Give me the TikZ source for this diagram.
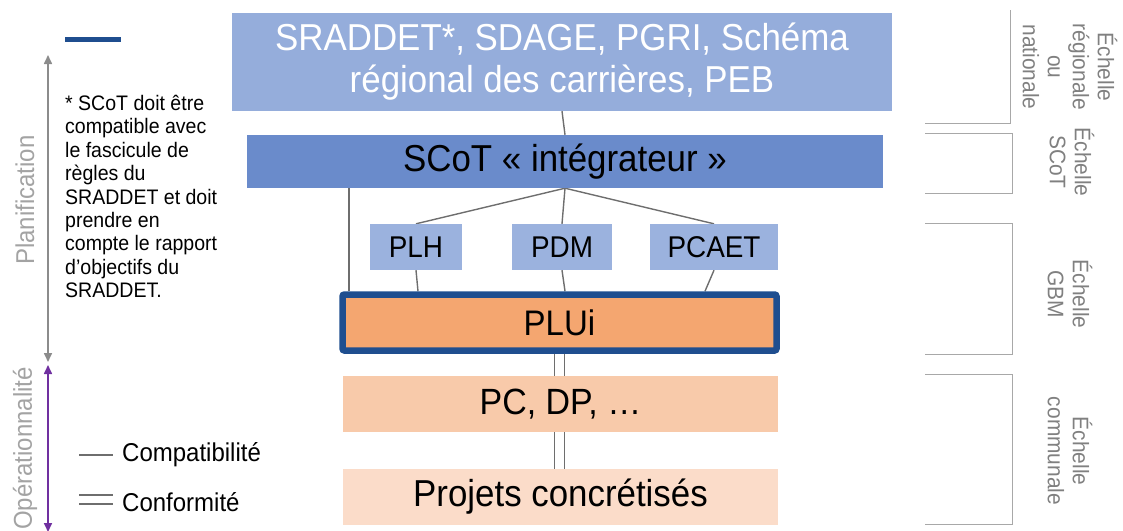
\documentclass[tikz,border=0pt]{standalone}
\usepackage{fontspec}
\setmainfont{Liberation Sans}[FakeStretch=0.93]
\usetikzlibrary{arrows.meta}
\definecolor{topblue}{HTML}{95ADDB}
\definecolor{scotblue}{HTML}{6A8BCB}
\definecolor{smallblue}{HTML}{9BB2DE}
\definecolor{pluifill}{HTML}{F4A670}
\definecolor{navy}{HTML}{1F4E8F}
\definecolor{pcfill}{HTML}{F8CAAA}
\definecolor{projfill}{HTML}{FBDCC9}
\definecolor{connc}{HTML}{6E6E6E}
\definecolor{brackc}{HTML}{A8A8A8}
\definecolor{sidetext}{HTML}{808080}
\definecolor{axisgray}{HTML}{8C8C8C}
\definecolor{purp}{HTML}{7030A0}
\pgfdeclarelayer{bg}
\pgfsetlayers{bg,main}
\begin{document}
\begin{tikzpicture}[x=1pt,y=-1pt,
  box/.style={draw=none, inner sep=0pt, align=center, text=black},
  conn/.style={draw=connc, line width=1.4pt},
  brack/.style={draw=brackc, line width=1pt},
  scaletext/.style={text=sidetext, align=center, rotate=-90, inner sep=0pt,
     font=\fontsize{22.5}{25}\selectfont},
  ]
\useasboundingbox (0,0) rectangle (1123,530);

% main boxes
\node[box, fill=topblue, text=white, minimum width=660pt, minimum height=98pt,
  font=\fontsize{37.5}{42}\selectfont] (top) at (562,62)
  {SRADDET*, SDAGE, PGRI, Schéma\\régional des carrières, PEB};
\node[box, fill=scotblue, minimum width=636pt, minimum height=53pt,
  font=\fontsize{37.5}{42}\selectfont] (scot) at (565,161.5) {SCoT « intégrateur »};
\node[box, fill=smallblue, minimum width=92pt, minimum height=46pt,
  font=\fontsize{30}{34}\selectfont] (plh) at (416,247) {PLH};
\node[box, fill=smallblue, minimum width=100pt, minimum height=46pt,
  font=\fontsize{30}{34}\selectfont] (pdm) at (562,247) {PDM};
\node[box, fill=smallblue, minimum width=128pt, minimum height=46pt,
  font=\fontsize{30}{34}\selectfont] (pcaet) at (714,247) {PCAET};
\node[box, draw=navy, line width=6.5pt, rounded corners=2pt, fill=pluifill,
  minimum width=434pt, minimum height=56pt,
  font=\fontsize{35.5}{40}\selectfont] (plui) at (559.5,322.5) {PLUi};
\node[box, fill=pcfill, minimum width=435pt, minimum height=56pt,
  font=\fontsize{36.5}{42}\selectfont] (pc) at (560.5,404) {PC, DP, …};
\node[box, fill=projfill, minimum width=435pt, minimum height=56pt,
  font=\fontsize{37.5}{42}\selectfont] (proj) at (560.5,497) {Projets concrétisés};

% connectors
\coordinate (lx) at (349,0);
\begin{pgfonlayer}{bg}
\draw[conn] (top.south) -- (scot.north);
\draw[conn] (scot.south) -- (plh.north);
\draw[conn] (scot.south) -- (pdm.north);
\draw[conn] (scot.south) -- (pcaet.north);
\draw[conn] (plh.south) -- ([xshift=2pt]plh.south |- plui.north);
\draw[conn] (pdm.south) -- ([xshift=3pt]pdm.south |- plui.north);
\draw[conn] (pcaet.south) -- ([xshift=-9pt]pcaet.south |- plui.north);
\draw[conn] (scot.south -| lx) -- (plui.north -| lx);
\draw[conn] ([xshift=-5pt]plui.south) -- ([xshift=-6pt]pc.north);
\draw[conn] ([xshift=5pt]plui.south) -- ([xshift=4pt]pc.north);
\draw[conn] ([xshift=-6pt]pc.south) -- ([xshift=-6pt]proj.north);
\draw[conn] ([xshift=4pt]pc.south) -- ([xshift=4pt]proj.north);
\end{pgfonlayer}

% right-hand brackets
\draw[brack] (925,123) -- (1010,123) -- (1010,10);
\draw[brack] (925,133) -- (1012,133) -- (1012,193) -- (925,193);
\draw[brack] (925,223) -- (1012,223) -- (1012,354) -- (925,354);
\draw[brack] (925,374) -- (1012,374) -- (1012,524) -- (925,524);
\node[scaletext] (s1) at (1070,67) {Échelle\\régionale\\ou\\nationale};
\node[scaletext] (s2) at (1072,162) {Échelle\\SCoT};
\node[scaletext] (s3) at (1070,294) {Échelle\\GBM};
\node[scaletext] (s4) at (1070,451) {Échelle\\communale};

% left-hand axis
\coordinate (pa) at (48,55);
\coordinate (pb) at (48,362);
\coordinate (oa) at (48,365);
\coordinate (ob) at (48,532);
\draw[draw=axisgray, line width=1.6pt, {Triangle[width=8pt,length=9pt]}-{Triangle[width=8pt,length=9pt]}] (pa) -- (pb);
\draw[draw=purp, line width=1.6pt, {Triangle[width=8pt,length=9pt]}-{Triangle[width=8pt,length=9pt]}] (oa) -- (ob);
\node[text=axisgray!80, rotate=90, inner sep=0pt, font=\fontsize{25.8}{30}\selectfont] (plan) at (25,200) {Planification};
\node[text=axisgray!80, rotate=90, anchor=east, inner sep=0pt, font=\fontsize{25.8}{30}\selectfont] (oper) at (25,367) {Opérationnalité};

% legend swatch
\coordinate (sw1) at (65,39);
\coordinate (sw2) at (121,39);
\draw[draw=navy, line width=5pt] (sw1) -- (sw2);

% note
\node[anchor=north west, inner sep=0pt, align=left, text=black,
  font=\fontsize{21}{23.4}\selectfont] (note) at (65,95)
  {* SCoT doit être\\compatible avec\\le fascicule de\\règles du\\SRADDET et doit\\prendre en\\compte le rapport\\d’objectifs du\\SRADDET.};

% legend
\coordinate (l1a) at (79,455);
\coordinate (l1b) at (113,455);
\draw[conn, line width=1.2pt] (l1a) -- (l1b);
\node[anchor=west, inner sep=0pt, font=\fontsize{25.8}{30}\selectfont] (compat) at (122,455) {Compatibilité};
\coordinate (l2a) at (79,495);
\coordinate (l2b) at (113,495);
\coordinate (l3a) at (79,504);
\coordinate (l3b) at (113,504);
\draw[conn, line width=1.2pt] (l2a) -- (l2b);
\draw[conn, line width=1.2pt] (l3a) -- (l3b);
\node[anchor=west, inner sep=0pt, font=\fontsize{25.8}{30}\selectfont] (conf) at (122,502) {Conformité};
\end{tikzpicture}
\end{document}
